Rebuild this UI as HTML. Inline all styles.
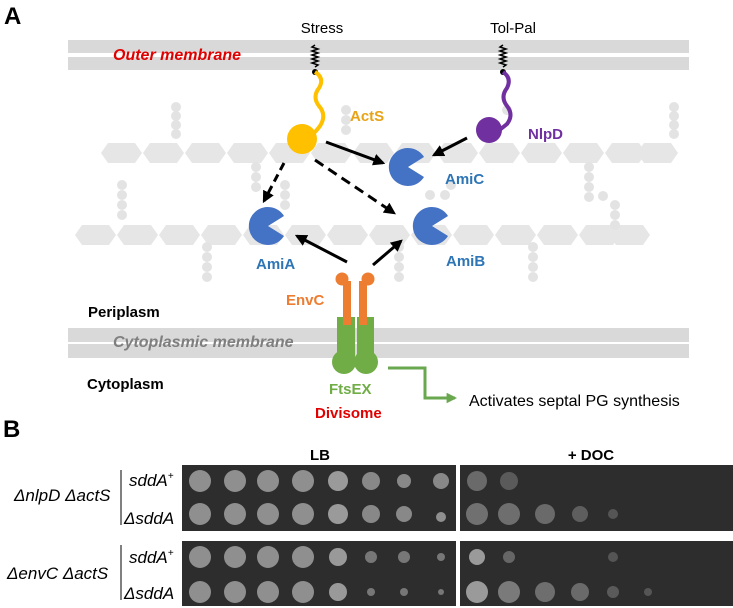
<!DOCTYPE html>
<html><head><meta charset="utf-8"><style>
html,body{margin:0;padding:0;background:#fff}
svg{display:block}
text{font-family:"Liberation Sans",Arial,sans-serif}
</style></head><body>
<svg width="733" height="608" viewBox="0 0 733 608" xmlns="http://www.w3.org/2000/svg">
<defs>
<marker id="ah" viewBox="0 0 10 10" refX="8" refY="5" markerWidth="4" markerHeight="4" orient="auto"><path d="M0,0 L10,5 L0,10 Z" fill="#000"/></marker>
<marker id="gh" viewBox="0 0 10 10" refX="8" refY="5" markerWidth="3.5" markerHeight="3.5" orient="auto"><path d="M0,0 L10,5 L0,10 Z" fill="#6aa84f"/></marker>
<g id="hex"><path d="M0,0 l7,-10 h27 l7,10 l-7,10 h-27 z" fill="#e6e6e6"/></g>
</defs>
<text x="4" y="24" font-size="24" font-weight="bold">A</text>
<rect x="68" y="40" width="621" height="13" fill="#d9d9d9"/>
<rect x="68" y="57" width="621" height="13" fill="#d9d9d9"/>
<text x="322" y="33" font-size="15" text-anchor="middle">Stress</text>
<text x="513" y="33" font-size="15" text-anchor="middle">Tol-Pal</text>
<text x="113" y="60" font-size="16" font-weight="bold" font-style="italic" fill="#e00000">Outer membrane</text>
<g>
<use href="#hex" x="101" y="153"/><use href="#hex" x="143" y="153"/><use href="#hex" x="185" y="153"/><use href="#hex" x="227" y="153"/><use href="#hex" x="269" y="153"/><use href="#hex" x="311" y="153"/><use href="#hex" x="353" y="153"/><use href="#hex" x="395" y="153"/><use href="#hex" x="437" y="153"/><use href="#hex" x="479" y="153"/><use href="#hex" x="521" y="153"/><use href="#hex" x="563" y="153"/><use href="#hex" x="605" y="153"/><use href="#hex" x="637" y="153"/>
<use href="#hex" x="75" y="235"/><use href="#hex" x="117" y="235"/><use href="#hex" x="159" y="235"/><use href="#hex" x="201" y="235"/><use href="#hex" x="243" y="235"/><use href="#hex" x="285" y="235"/><use href="#hex" x="327" y="235"/><use href="#hex" x="369" y="235"/><use href="#hex" x="411" y="235"/><use href="#hex" x="453" y="235"/><use href="#hex" x="495" y="235"/><use href="#hex" x="537" y="235"/><use href="#hex" x="579" y="235"/><use href="#hex" x="609" y="235"/>
</g>
<g fill="#e3e3e3">
<circle cx="176" cy="107" r="5"/><circle cx="176" cy="116" r="5"/><circle cx="176" cy="125" r="5"/><circle cx="176" cy="134" r="5"/>
<circle cx="674" cy="107" r="5"/><circle cx="674" cy="116" r="5"/><circle cx="674" cy="125" r="5"/><circle cx="674" cy="134" r="5"/>
<circle cx="122" cy="185" r="5"/><circle cx="122" cy="195" r="5"/><circle cx="122" cy="205" r="5"/><circle cx="122" cy="215" r="5"/>
<circle cx="256" cy="167" r="5"/><circle cx="256" cy="177" r="5"/><circle cx="256" cy="187" r="5"/>
<circle cx="285" cy="185" r="5"/><circle cx="285" cy="195" r="5"/><circle cx="285" cy="205" r="5"/>
<circle cx="207" cy="247" r="5"/><circle cx="207" cy="257" r="5"/><circle cx="207" cy="267" r="5"/><circle cx="207" cy="277" r="5"/>
<circle cx="399" cy="247" r="5"/><circle cx="399" cy="257" r="5"/><circle cx="399" cy="267" r="5"/><circle cx="399" cy="277" r="5"/>
<circle cx="533" cy="247" r="5"/><circle cx="533" cy="257" r="5"/><circle cx="533" cy="267" r="5"/><circle cx="533" cy="277" r="5"/>
<circle cx="589" cy="167" r="5"/><circle cx="589" cy="177" r="5"/><circle cx="589" cy="187" r="5"/><circle cx="589" cy="197" r="5"/>
<circle cx="603" cy="196" r="5"/><circle cx="615" cy="205" r="5"/><circle cx="615" cy="215" r="5"/><circle cx="615" cy="225" r="5"/>
<circle cx="430" cy="195" r="5"/><circle cx="445" cy="195" r="5"/><circle cx="451" cy="185" r="5"/>
<circle cx="346" cy="110" r="5"/><circle cx="346" cy="120" r="5"/><circle cx="346" cy="130" r="5"/>
<circle cx="507" cy="110" r="5"/>
</g>
<path d="M315,45 l-3,2 l6,2 l-6,2 l6,2 l-6,2 l6,2 l-6,2 l6,2 l-6,2 l6,2 l-3,2" stroke="#000" stroke-width="1.5" fill="none"/>
<circle cx="315" cy="72" r="3" fill="#000"/>
<path d="M503,45 l-3,2 l6,2 l-6,2 l6,2 l-6,2 l6,2 l-6,2 l6,2 l-6,2 l6,2 l-3,2" stroke="#000" stroke-width="1.5" fill="none"/>
<circle cx="503" cy="72" r="3" fill="#000"/>
<path d="M315,72 q10,6 4,16 q-7,9 0,18 q8,9 1,20 q-6,8 -12,12" stroke="#ffc000" stroke-width="4" fill="none"/>
<circle cx="302" cy="139" r="15" fill="#ffc000"/>
<text x="350" y="121" font-size="15" font-weight="bold" fill="#e8a317">ActS</text>
<path d="M503,72 q9,6 4,16 q-7,9 0,18 q7,9 0,18 l-10,8" stroke="#7030a0" stroke-width="4" fill="none"/>
<circle cx="489" cy="130" r="13" fill="#7030a0"/>
<text x="528" y="139" font-size="15" font-weight="bold" fill="#7030a0">NlpD</text>
<g fill="#4472c4">
<path d="M408,167 L424,157 A19,19 0 1 0 424,177 Z"/>
<path d="M268,226 L284,216 A19,19 0 1 0 284,236 Z"/>
<path d="M432,226 L448,216 A19,19 0 1 0 448,236 Z"/>
</g>
<g font-size="15" font-weight="bold" fill="#2e75b6">
<text x="445" y="184">AmiC</text>
<text x="256" y="269">AmiA</text>
<text x="446" y="266">AmiB</text>
</g>
<g stroke="#000" stroke-width="3" fill="none" marker-end="url(#ah)">
<line x1="326" y1="142" x2="383" y2="163"/>
<line x1="467" y1="138" x2="434" y2="155"/>
<line x1="284" y1="163" x2="264" y2="201" stroke-dasharray="8,5"/>
<line x1="315" y1="160" x2="394" y2="213" stroke-dasharray="10,6"/>
<line x1="347" y1="262" x2="297" y2="236"/>
<line x1="373" y1="265" x2="401" y2="241"/>
</g>
<rect x="68" y="328" width="621" height="14" fill="#d9d9d9"/>
<rect x="68" y="344" width="621" height="14" fill="#d9d9d9"/>
<text x="88" y="317" font-size="15" font-weight="bold">Periplasm</text>
<text x="113" y="347" font-size="16" font-weight="bold" font-style="italic" fill="#7f7f7f">Cytoplasmic membrane</text>
<text x="87" y="389" font-size="15" font-weight="bold">Cytoplasm</text>
<g fill="#70ad47">
<rect x="337" y="317" width="18" height="46"/><rect x="357" y="317" width="17" height="46"/>
<circle cx="344" cy="362" r="12"/><circle cx="366" cy="362" r="12"/>
</g>
<g fill="#ed7d31">
<rect x="343" y="281" width="8" height="44"/><rect x="359" y="281" width="8" height="44"/>
<circle cx="342" cy="279" r="6.5"/><circle cx="368" cy="279" r="6.5"/>
</g>
<text x="286" y="305" font-size="15" font-weight="bold" fill="#ed7d31">EnvC</text>
<text x="329" y="394" font-size="15" font-weight="bold" fill="#70ad47">FtsEX</text>
<text x="315" y="418" font-size="15" font-weight="bold" fill="#e00000">Divisome</text>
<polyline points="388,368 425,368 425,398 455,398" stroke="#6aa84f" stroke-width="3" fill="none" marker-end="url(#gh)"/>
<text x="469" y="406" font-size="16">Activates septal PG synthesis</text>
<text x="3" y="437" font-size="24" font-weight="bold">B</text>
<text x="320" y="460" font-size="15" font-weight="bold" text-anchor="middle">LB</text>
<text x="591" y="460" font-size="15" font-weight="bold" text-anchor="middle">+ DOC</text>
<g fill="#2d2d2d">
<rect x="182" y="465" width="274" height="66"/><rect x="460" y="465" width="275" height="66"/>
<rect x="182" y="541" width="274" height="65"/><rect x="460" y="541" width="275" height="65"/>
</g>
<g fill="#8f8f8f">
<circle cx="200" cy="481" r="11"/><circle cx="235" cy="481" r="11"/><circle cx="268" cy="481" r="11"/><circle cx="303" cy="481" r="11"/><circle cx="338" cy="481" r="10" fill="#9a9a9a"/><circle cx="371" cy="481" r="9" fill="#888"/><circle cx="404" cy="481" r="7" fill="#888"/><circle cx="441" cy="481" r="8" fill="#888"/>
<circle cx="200" cy="514" r="11"/><circle cx="235" cy="514" r="11"/><circle cx="268" cy="514" r="11"/><circle cx="303" cy="514" r="11"/><circle cx="338" cy="514" r="10" fill="#9a9a9a"/><circle cx="371" cy="514" r="9" fill="#888"/><circle cx="404" cy="514" r="8" fill="#888"/><circle cx="441" cy="517" r="5"/>
<circle cx="477" cy="481" r="10" fill="#6a6a6a"/><circle cx="509" cy="481" r="9" fill="#5a5a5a"/>
<circle cx="477" cy="514" r="11" fill="#707070"/><circle cx="509" cy="514" r="11" fill="#6e6e6e"/><circle cx="545" cy="514" r="10" fill="#6a6a6a"/><circle cx="580" cy="514" r="8" fill="#5e5e5e"/><circle cx="613" cy="514" r="5" fill="#555"/>
<circle cx="200" cy="557" r="11"/><circle cx="235" cy="557" r="11"/><circle cx="268" cy="557" r="11"/><circle cx="303" cy="557" r="11"/><circle cx="338" cy="557" r="9" fill="#999"/><circle cx="371" cy="557" r="6" fill="#777"/><circle cx="404" cy="557" r="6" fill="#777"/><circle cx="441" cy="557" r="4" fill="#777"/>
<circle cx="200" cy="592" r="11"/><circle cx="235" cy="592" r="11"/><circle cx="268" cy="592" r="11"/><circle cx="303" cy="592" r="11"/><circle cx="338" cy="592" r="9" fill="#999"/><circle cx="371" cy="592" r="4" fill="#777"/><circle cx="404" cy="592" r="4" fill="#777"/><circle cx="441" cy="592" r="3" fill="#777"/>
<circle cx="477" cy="557" r="8" fill="#9a9a9a"/><circle cx="509" cy="557" r="6" fill="#666"/><circle cx="613" cy="557" r="5" fill="#555"/>
<circle cx="477" cy="592" r="11" fill="#9a9a9a"/><circle cx="509" cy="592" r="11" fill="#7a7a7a"/><circle cx="545" cy="592" r="10" fill="#6e6e6e"/><circle cx="580" cy="592" r="9" fill="#6a6a6a"/><circle cx="613" cy="592" r="6" fill="#5a5a5a"/><circle cx="648" cy="592" r="4" fill="#555"/>
</g>
<g font-size="17" font-style="italic">
<text x="14" y="501">ΔnlpD ΔactS</text>
<text x="7" y="579">ΔenvC ΔactS</text>
<text x="129" y="486">sddA<tspan font-size="10" dy="-7">+</tspan></text>
<text x="124" y="524">ΔsddA</text>
<text x="129" y="563">sddA<tspan font-size="10" dy="-7">+</tspan></text>
<text x="124" y="599">ΔsddA</text>
</g>
<line x1="121" y1="470" x2="121" y2="525" stroke="#000" stroke-width="1"/>
<line x1="121" y1="545" x2="121" y2="600" stroke="#000" stroke-width="1"/>
</svg>
</body></html>
